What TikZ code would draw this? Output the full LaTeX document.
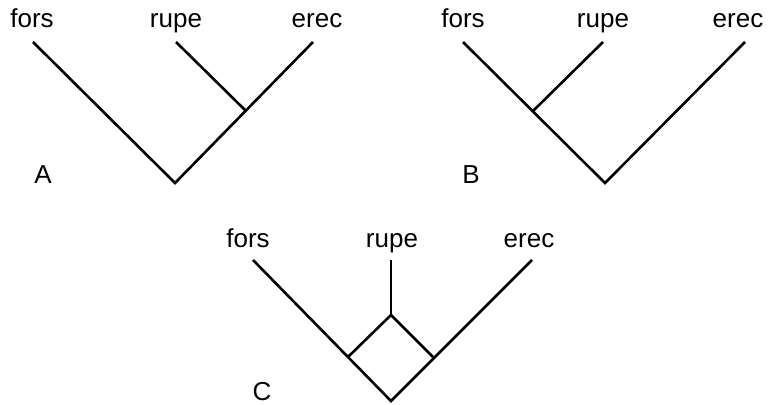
\documentclass[tikz,border=0pt]{standalone}
\usepackage{fontspec}
\setmainfont{Liberation Sans}
\begin{document}
\begin{tikzpicture}[x=1pt,y=-1pt,
  lbl/.style={font=\fontsize{26}{30}\selectfont, inner sep=0pt, anchor=base},
  br/.style={line width=2.6pt, line cap=butt, line join=miter}]
\useasboundingbox (0,0) rectangle (775,404);
% Tree A
\node[lbl] (Af) at (32,28) {fors};
\node[lbl] (Ar) at (176,28) {rupe};
\node[lbl] (Ae) at (317,28) {erec};
\node[lbl] (Al) at (43,183) {A};
\coordinate (Aft) at (33,42);
\coordinate (Art) at (176,42);
\coordinate (Aet) at (313,42);
\coordinate (Aj) at (246,111);
\coordinate (Ao) at (175,183);
\draw[br] (Aft) -- (Ao) -- (Aet);
\draw[br] (Art) -- (Aj);
% Tree B
\node[lbl] (Bf) at (463,28) {fors};
\node[lbl] (Br) at (603,28) {rupe};
\node[lbl] (Be) at (738,28) {erec};
\node[lbl] (Bl) at (471,183) {B};
\coordinate (Bft) at (463,42);
\coordinate (Brt) at (603,42);
\coordinate (Bet) at (745,42);
\coordinate (Bj) at (533,111);
\coordinate (Bo) at (605,183);
\draw[br] (Bft) -- (Bo) -- (Bet);
\draw[br] (Brt) -- (Bj);
% Tree C
\node[lbl] (Cf) at (248,247) {fors};
\node[lbl] (Cr) at (392,247) {rupe};
\node[lbl] (Ce) at (529,247) {erec};
\node[lbl] (Cl) at (262,400) {C};
\coordinate (Cft) at (253,260);
\coordinate (Crt) at (391,260);
\coordinate (Cet) at (532,260);
\coordinate (Cdl) at (348,357);
\coordinate (Cdr) at (433,357);
\coordinate (Cdt) at (391,315);
\coordinate (Co) at (391,401);
\draw[br] (Cft) -- (Co) -- (Cet);
\draw[br] (Cdl) -- (Cdt) -- (Cdr);
\draw[br] (Crt) -- (Cdt);
\end{tikzpicture}
\end{document}
